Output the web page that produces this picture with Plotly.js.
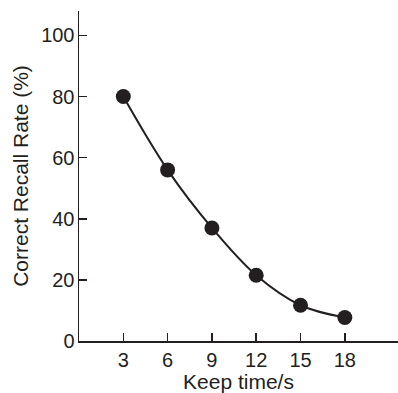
<!DOCTYPE html>
<html>
<head>
<meta charset="utf-8">
<script src="https://cdn.plot.ly/plotly-3.0.1.min.js"></script>
<style>html,body{margin:0;padding:0;background:#fff;}#chart{width:398px;height:393px;}</style>
</head>
<body>
<div id="chart"></div>
<script>
const keepTime = [3, 6, 9, 12, 15, 18];
const recallRate = [80, 56, 37, 21.5, 11.7, 7.7];
const xTicks = [3, 6, 9, 12, 15, 18];
const yTicks = [0, 20, 40, 60, 80, 100];

const ink = '#231f20';
const fontFamily = '"Liberation Sans", Arial, Helvetica, sans-serif';

const trace = {
  x: keepTime,
  y: recallRate,
  mode: 'lines+markers',
  line: {shape: 'spline', smoothing: 1, color: ink, width: 2},
  marker: {size: 15, color: ink},
  hoverinfo: 'skip'
};

const layout = {
  width: 398,
  height: 393,
  margin: {l: 79, r: 0, t: 11, b: 52},
  paper_bgcolor: '#fff',
  plot_bgcolor: '#fff',
  showlegend: false,
  font: {family: fontFamily, size: 20, color: ink},
  xaxis: {
    range: [0, 21.6],
    tickvals: xTicks,
    ticktext: xTicks.map(String),
    ticks: 'inside',
    ticklen: 8,
    tickwidth: 1.5,
    tickcolor: ink,
    showline: true,
    linecolor: ink,
    linewidth: 1.5,
    showgrid: false,
    zeroline: false,
    tickfont: {size: 20, color: ink},
    title: {text: 'Keep time/s', font: {size: 21, color: ink}, standoff: 5}
  },
  yaxis: {
    range: [0, 108],
    tickvals: yTicks,
    ticktext: yTicks.map(String),
    ticks: 'inside',
    ticklen: 8,
    tickwidth: 1.5,
    tickcolor: ink,
    showline: true,
    linecolor: ink,
    linewidth: 1.5,
    showgrid: false,
    zeroline: false,
    ticklabelstandoff: -1,
    tickfont: {size: 20, color: ink},
    title: {text: 'Correct Recall Rate (%)', font: {size: 21, color: ink}, standoff: 7}
  }
};

Plotly.newPlot('chart', [trace], layout, {displayModeBar: false, staticPlot: true});
</script>
</body>
</html>
